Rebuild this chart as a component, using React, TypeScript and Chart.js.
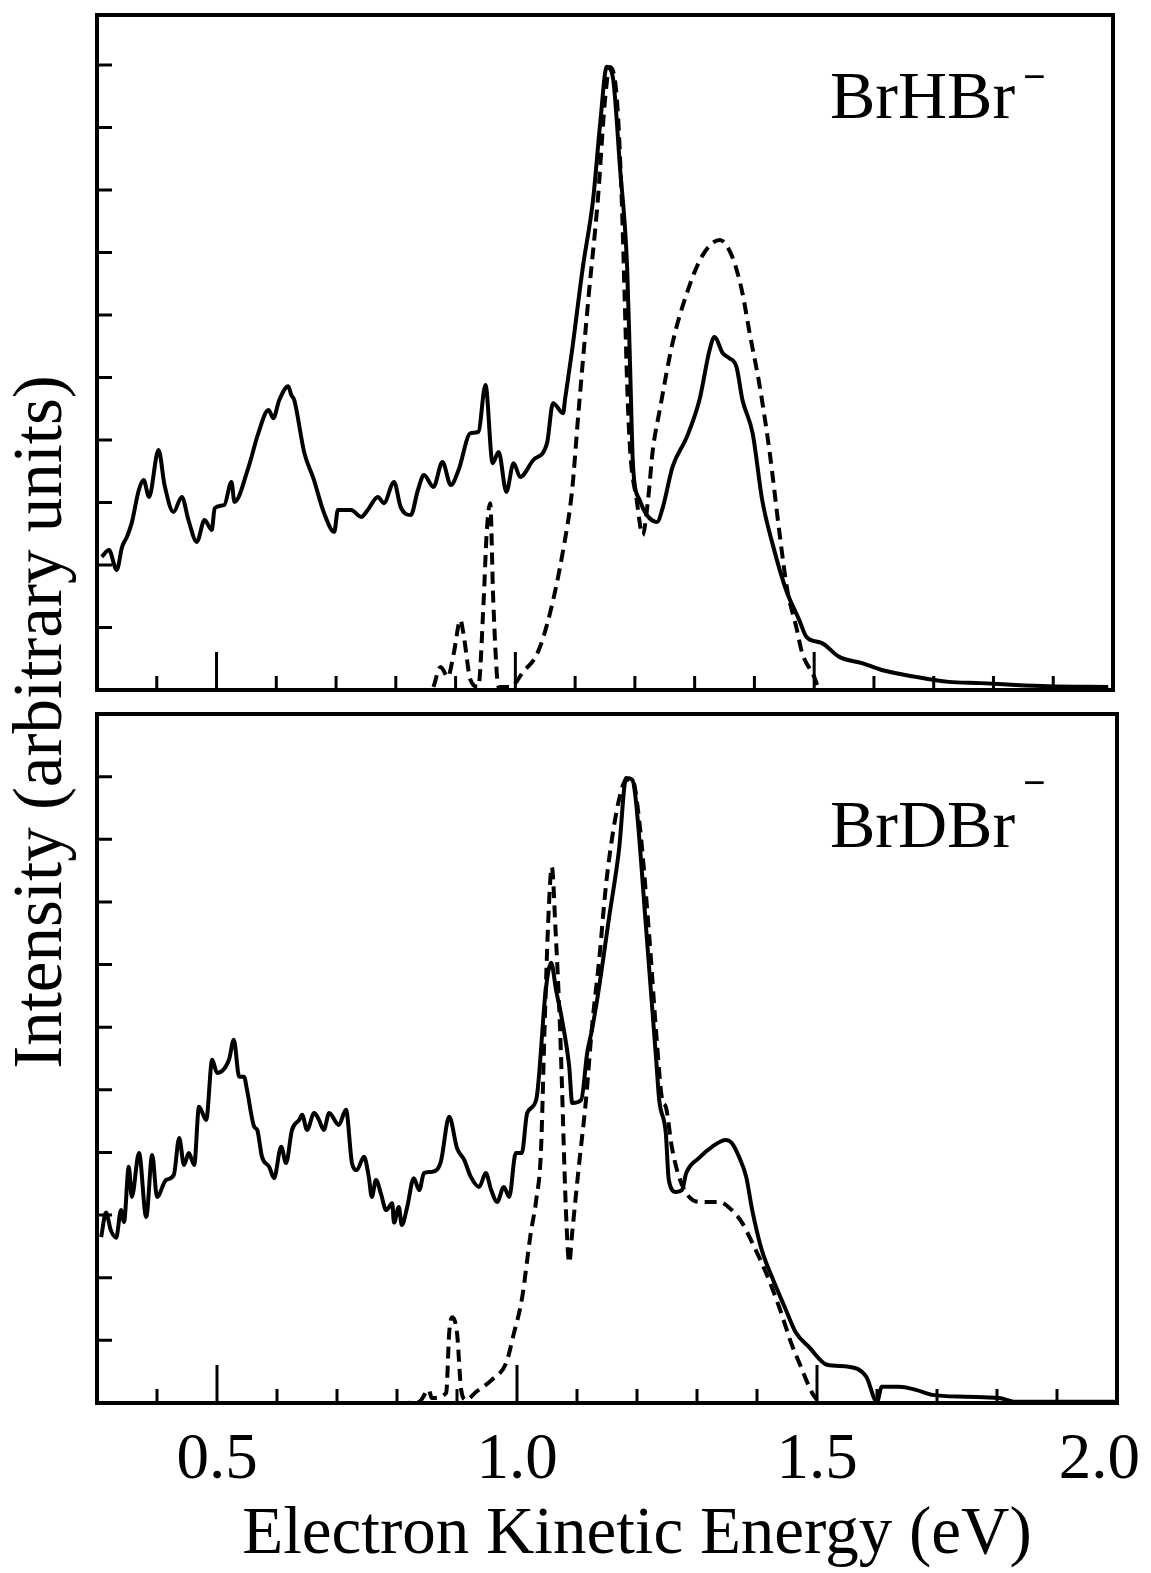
import React, { useEffect, useRef } from "react";
import { Chart, registerables } from "chart.js";

Chart.register(...registerables);

// ---------- axes ----------
const X_MIN = 0.3;
const X_MAX = 2.0;
const X_MAJOR_TICKS = [0.5, 1.0, 1.5];
const X_MINOR_TICKS = [0.4, 0.6, 0.7, 0.8, 0.9, 1.1, 1.2, 1.3, 1.4, 1.6, 1.7, 1.8, 1.9];
const X_LABEL_VALUES = [0.5, 1.0, 1.5, 2.0];
const X_LABEL_TEXT = ["0.5", "1.0", "1.5", "2.0"];
const Y_TICKS = [1, 2, 3, 4, 5, 6, 7, 8, 9, 10];
const TOP_Y_MAX = 10.8;
const BOTTOM_Y_MAX = 11.0;
const X_TITLE = "Electron Kinetic Energy (eV)";
const Y_TITLE = "Intensity (arbitrary units)";
const TOP_LABEL = "BrHBr";
const BOTTOM_LABEL = "BrDBr";

// ---------- BrHBr- experimental (solid) ----------
const brhbrExpX = [
  0.308, 0.320, 0.333, 0.342, 0.350, 0.358, 0.370, 0.378, 0.387, 0.403,
  0.413, 0.428, 0.442, 0.453, 0.467, 0.480, 0.492, 0.497, 0.513, 0.525,
  0.530, 0.553, 0.570, 0.587, 0.595, 0.605, 0.620, 0.625, 0.630, 0.647,
  0.662, 0.680, 0.697, 0.703, 0.725, 0.742, 0.753, 0.770, 0.780, 0.797,
  0.808, 0.825, 0.837, 0.847, 0.863, 0.878, 0.892, 0.905, 0.925, 0.938,
  0.950, 0.962, 0.972, 0.985, 0.997, 1.008, 1.030, 1.053, 1.063, 1.080,
  1.083, 1.095, 1.113, 1.130, 1.142, 1.153, 1.163, 1.175, 1.187, 1.192,
  1.197, 1.208, 1.220, 1.237, 1.247, 1.263, 1.287, 1.308, 1.325, 1.333,
  1.347, 1.358, 1.370, 1.380, 1.397, 1.413, 1.430, 1.453, 1.475, 1.487,
  1.513, 1.542, 1.580, 1.613, 1.670, 1.725, 1.780, 1.837, 1.892, 1.992,
];
const brhbrExpY = [
  2.13, 2.24, 1.92, 2.29, 2.45, 2.67, 3.20, 3.36, 3.09, 3.84,
  3.28, 2.85, 3.09, 2.72, 2.37, 2.72, 2.56, 2.91, 2.96, 3.33,
  3.01, 3.55, 4.11, 4.48, 4.35, 4.64, 4.86, 4.72, 4.64, 3.79,
  3.39, 2.83, 2.53, 2.88, 2.88, 2.77, 2.88, 3.09, 2.99, 3.33,
  2.93, 2.80, 3.20, 3.44, 3.25, 3.65, 3.28, 3.52, 4.11, 4.13,
  4.88, 3.63, 3.81, 3.17, 3.63, 3.41, 3.68, 3.95, 4.59, 4.43,
  4.64, 5.44, 6.77, 7.84, 9.07, 9.97, 9.81, 8.37, 6.77, 5.17,
  3.57, 3.04, 2.80, 2.69, 2.93, 3.57, 4.05, 4.64, 5.44, 5.65,
  5.39, 5.31, 5.17, 4.64, 4.11, 3.04, 2.35, 1.60, 1.12, 0.85,
  0.75, 0.53, 0.43, 0.32, 0.21, 0.13, 0.11, 0.08, 0.06, 0.05,
];

// ---------- BrHBr- calculated (dashed) ----------
const brhbrCalcX = [
  0.863, 0.875, 0.887, 0.897, 0.908, 0.913, 0.925, 0.938, 0.947, 0.952,
  0.958, 0.963, 0.972, 0.992, 1.013, 1.037, 1.058, 1.080, 1.095, 1.105,
  1.122, 1.138, 1.150, 1.158, 1.170, 1.178, 1.183, 1.187, 1.192, 1.203,
  1.213, 1.222, 1.230, 1.242, 1.263, 1.287, 1.313, 1.342, 1.363, 1.380,
  1.392, 1.408, 1.425, 1.442, 1.455, 1.470, 1.480, 1.500, 1.505,
];
const brhbrCalcY = [
  0.05, 0.37, 0.21, 0.59, 1.12, 0.91, 0.16, 0.05, 1.44, 2.51,
  2.99, 1.44, 0.05, 0.05, 0.29, 0.59, 1.23, 2.24, 3.20, 4.37,
  6.24, 7.84, 9.44, 9.97, 9.44, 7.84, 6.24, 4.91, 3.84, 3.04,
  2.48, 3.04, 3.84, 4.50, 5.55, 6.35, 6.95, 7.20, 6.93, 6.35,
  5.71, 4.91, 3.84, 2.51, 1.60, 1.01, 0.59, 0.21, 0.08,
];

// ---------- BrDBr- experimental (solid) ----------
const brdbrExpX = [
  0.307, 0.315, 0.323, 0.332, 0.340, 0.345, 0.353, 0.358, 0.370, 0.382,
  0.392, 0.400, 0.415, 0.428, 0.437, 0.445, 0.453, 0.462, 0.470, 0.482,
  0.492, 0.500, 0.520, 0.528, 0.537, 0.545, 0.550, 0.562, 0.567, 0.575,
  0.587, 0.595, 0.607, 0.615, 0.625, 0.637, 0.642, 0.650, 0.662, 0.670,
  0.678, 0.687, 0.703, 0.715, 0.725, 0.733, 0.745, 0.753, 0.758, 0.765,
  0.773, 0.782, 0.792, 0.795, 0.803, 0.808, 0.817, 0.828, 0.837, 0.845,
  0.858, 0.873, 0.887, 0.900, 0.912, 0.923, 0.937, 0.948, 0.957, 0.967,
  0.978, 0.987, 0.998, 1.008, 1.017, 1.032, 1.048, 1.057, 1.065, 1.075,
  1.087, 1.092, 1.107, 1.117, 1.125, 1.137, 1.153, 1.170, 1.182, 1.192,
  1.198, 1.215, 1.232, 1.237, 1.248, 1.253, 1.265, 1.275, 1.282, 1.303,
  1.325, 1.348, 1.358, 1.370, 1.382, 1.392, 1.408, 1.425, 1.448, 1.465,
  1.487, 1.517, 1.553, 1.582, 1.600, 1.608, 1.637, 1.665, 1.692, 1.748,
  1.803, 1.832, 1.942, 1.998,
];
const brdbrExpY = [
  2.65, 3.04, 2.76, 2.64, 3.08, 2.89, 3.77, 3.29, 3.99, 2.97,
  3.96, 3.29, 3.56, 3.64, 4.23, 3.80, 3.99, 3.80, 4.73, 4.52,
  5.48, 5.27, 5.48, 5.80, 5.21, 5.21, 5.00, 4.41, 4.36, 3.93,
  3.77, 3.59, 4.09, 3.83, 4.36, 4.52, 4.60, 4.36, 4.63, 4.52,
  4.36, 4.63, 4.44, 4.68, 3.83, 3.72, 3.93, 3.61, 3.29, 3.56,
  3.35, 3.08, 3.19, 2.88, 3.13, 2.84, 3.13, 3.59, 3.40, 3.67,
  3.69, 3.85, 4.57, 4.07, 3.88, 3.61, 3.45, 3.67, 3.40, 3.21,
  3.45, 3.29, 3.99, 3.99, 4.63, 4.84, 6.60, 7.03, 6.60, 6.12,
  5.37, 4.79, 4.84, 5.59, 5.96, 6.65, 7.72, 8.83, 9.98, 9.95,
  9.63, 7.60, 5.48, 4.84, 4.31, 3.56, 3.37, 3.40, 3.67, 3.91,
  4.09, 4.20, 4.15, 3.93, 3.61, 3.08, 2.44, 2.01, 1.49, 1.12,
  0.89, 0.61, 0.58, 0.42, 0.02, 0.26, 0.26, 0.21, 0.13, 0.10,
  0.08, 0.02, 0.02, 0.02,
];

// ---------- BrDBr- calculated (dashed) ----------
const brdbrCalcX = [
  0.803, 0.837, 0.853, 0.858, 0.882, 0.887, 0.892, 0.900, 0.907, 0.915,
  0.932, 0.958, 0.982, 0.995, 1.008, 1.023, 1.032, 1.040, 1.046, 1.053,
  1.058, 1.064, 1.072, 1.082, 1.087, 1.092, 1.103, 1.115, 1.125, 1.137,
  1.148, 1.158, 1.170, 1.182, 1.192, 1.203, 1.220, 1.232, 1.242, 1.248,
  1.258, 1.270, 1.287, 1.308, 1.337, 1.358, 1.375, 1.392, 1.415, 1.437,
  1.458, 1.470, 1.492, 1.500,
];
const brdbrCalcY = [
  0.00, 0.02, 0.21, 0.08, 0.16, 1.12, 1.37, 1.12, 0.21, 0.05,
  0.18, 0.37, 0.64, 1.12, 1.65, 2.72, 3.24, 4.04, 6.01, 7.90,
  8.56, 7.60, 5.91, 2.97, 2.24, 2.72, 3.77, 4.84, 6.01, 7.08,
  8.24, 8.99, 9.63, 9.95, 9.95, 9.36, 7.51, 5.91, 4.84, 4.73,
  4.09, 3.61, 3.29, 3.21, 3.21, 3.08, 2.88, 2.56, 2.08, 1.53,
  0.93, 0.65, 0.16, 0.05,
];

const SERIF = '"Liberation Serif", "Times New Roman", serif';

const toPoints = (xs: number[], ys: number[]) => xs.map((x, i) => ({ x, y: ys[i] }));

const decorPlugin = {
  id: "decor",
  afterDraw(chart: any, _args: any, opts: any) {
    const { ctx, chartArea } = chart;
    const { left, right, top, bottom } = chartArea;
    const xs = chart.scales.x;
    const ys = chart.scales.y;
    ctx.save();
    ctx.strokeStyle = "#000";
    ctx.fillStyle = "#000";
    ctx.lineCap = "butt";
    // frame
    ctx.lineWidth = 4;
    ctx.strokeRect(left, top, right - left, bottom - top);
    // inward ticks
    ctx.lineWidth = 3;
    ctx.beginPath();
    Y_TICKS.forEach((v) => {
      const py = ys.getPixelForValue(v);
      ctx.moveTo(left, py);
      ctx.lineTo(left + 15, py);
    });
    X_MINOR_TICKS.forEach((v) => {
      const px = xs.getPixelForValue(v);
      ctx.moveTo(px, bottom);
      ctx.lineTo(px, bottom - 14);
    });
    X_MAJOR_TICKS.forEach((v) => {
      const px = xs.getPixelForValue(v);
      ctx.moveTo(px, bottom);
      ctx.lineTo(px, bottom - 38);
    });
    ctx.stroke();

    // panel label
    ctx.font = `68px ${SERIF}`;
    ctx.textAlign = "left";
    ctx.textBaseline = "alphabetic";
    ctx.fillText(opts.label, opts.labelX, opts.labelY);
    const w = ctx.measureText(opts.label).width;
    ctx.font = `bold 40px ${SERIF}`;
    ctx.fillText("\u2212", opts.labelX + w + 8, opts.minusY);

    if (opts.showX) {
      ctx.font = `65px ${SERIF}`;
      ctx.textAlign = "center";
      X_LABEL_VALUES.forEach((v, i) => {
        const t = X_LABEL_TEXT[i];
        const tw = ctx.measureText(t).width;
        const px = Math.min(xs.getPixelForValue(v), chart.width - 11 - tw / 2);
        ctx.fillText(t, px, bottom + 75);
      });
      ctx.font = `67px ${SERIF}`;
      ctx.fillText(X_TITLE, (left + right) / 2 + 30, bottom + 150);
    }
    ctx.restore();
  },
};

function makeConfig(
  expX: number[], expY: number[], calcX: number[], calcY: number[],
  yMax: number, padding: any, decor: any
): any {
  return {
    type: "line",
    data: {
      datasets: [
        {
          label: "experiment",
          data: toPoints(expX, expY),
          borderColor: "#000",
          borderWidth: 4,
          pointRadius: 0,
          fill: false,
          cubicInterpolationMode: "monotone",
          clip: 6,
        },
        {
          label: "calculation",
          data: toPoints(calcX, calcY),
          borderColor: "#000",
          borderWidth: 4,
          borderDash: [12, 7],
          pointRadius: 0,
          fill: false,
          cubicInterpolationMode: "monotone",
          clip: 6,
        },
      ],
    },
    options: {
      responsive: false,
      animation: false,
      events: [],
      layout: { padding },
      plugins: {
        legend: { display: false },
        tooltip: { enabled: false },
        title: { display: false },
        decor,
      },
      scales: {
        x: { type: "linear", min: X_MIN, max: X_MAX, display: false },
        y: { type: "linear", min: 0, max: yMax, display: false },
      },
    },
    plugins: [decorPlugin],
  };
}

function Panel(props: { top: number; height: number; config: any }) {
  const ref = useRef<HTMLCanvasElement | null>(null);
  useEffect(() => {
    if (!ref.current) return;
    const chart = new Chart(ref.current, props.config);
    return () => chart.destroy();
  }, []);
  return (
    <canvas
      ref={ref}
      width={1151}
      height={props.height}
      style={{ position: "absolute", left: 0, top: props.top, width: 1151, height: props.height }}
    />
  );
}

export default function App() {
  const topConfig = makeConfig(
    brhbrExpX, brhbrExpY, brhbrCalcX, brhbrCalcY, TOP_Y_MAX,
    { left: 97, right: 38, top: 15, bottom: 10 },
    { label: TOP_LABEL, labelX: 830, labelY: 118, minusY: 90, showX: false }
  );
  const bottomConfig = makeConfig(
    brdbrExpX, brdbrExpY, brdbrCalcX, brdbrCalcY, BOTTOM_Y_MAX,
    { left: 97, right: 34, top: 14, bottom: 170 },
    { label: BOTTOM_LABEL, labelX: 830, labelY: 147, minusY: 96, showX: true }
  );
  return (
    <div
      style={{
        position: "absolute", left: 0, top: 0, width: 1151, height: 1573,
        background: "#fff", overflow: "hidden",
      }}
    >
      <Panel top={0} height={700} config={topConfig} />
      <Panel top={700} height={873} config={bottomConfig} />
      <div
        style={{
          position: "absolute",
          left: 38 - 400,
          top: 722 - 35,
          width: 800,
          height: 70,
          lineHeight: "70px",
          fontSize: 69,
          fontFamily: SERIF,
          textAlign: "center",
          whiteSpace: "nowrap",
          color: "#000",
          transform: "rotate(-90deg)",
        }}
      >
        {Y_TITLE}
      </div>
    </div>
  );
}
